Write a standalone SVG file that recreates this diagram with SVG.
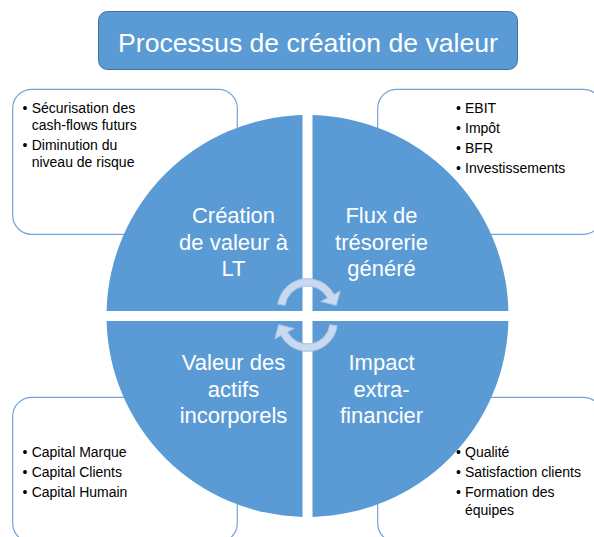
<svg xmlns="http://www.w3.org/2000/svg" width="594" height="537" viewBox="0 0 594 537">
<style>
.box{fill:#ffffff;stroke:#6FA3DA;stroke-width:1.2}
.quad{fill:#5B9BD5}
.qt{font-family:"Liberation Sans",Arial,sans-serif;font-size:22px;fill:#ffffff;text-anchor:middle}
.bt{font-family:"Liberation Sans",Arial,sans-serif;font-size:14px;fill:#000000}
.arr{fill:#C9DAF0;stroke:#A6C0E3;stroke-width:1}
</style>
<rect width="594" height="537" fill="#ffffff"/>
<g id="title">
<rect x="98.5" y="11.5" width="419" height="58" rx="9" fill="#5B9BD5" stroke="#41719C" stroke-width="1"/>
<text x="308" y="52" font-family="'Liberation Sans',Arial,sans-serif" font-size="26.6px" fill="#ffffff" text-anchor="middle">Processus de création de valeur</text>
</g>
<g id="box-tl">
<rect class="box" x="12.7" y="89.3" width="224.6" height="145" rx="19"/>
<text class="bt" x="22.5" y="112.5">•</text><text class="bt" x="31.7" y="112.5">Sécurisation des</text>
<text class="bt" x="31.7" y="130">cash-flows futurs</text>
<text class="bt" x="22.5" y="150">•</text><text class="bt" x="31.7" y="150">Diminution du</text>
<text class="bt" x="31.7" y="167">niveau de risque</text>
</g>
<g id="box-tr">
<rect class="box" x="377.7" y="89.3" width="224.6" height="145" rx="19"/>
<text class="bt" x="456" y="112.5">•</text><text class="bt" x="465" y="112.5">EBIT</text>
<text class="bt" x="456" y="132.5">•</text><text class="bt" x="465" y="132.5">Impôt</text>
<text class="bt" x="456" y="152.5">•</text><text class="bt" x="465" y="152.5">BFR</text>
<text class="bt" x="456" y="172.5">•</text><text class="bt" x="465" y="172.5">Investissements</text>
</g>
<g id="box-bl">
<rect class="box" x="12.7" y="397.3" width="224.6" height="145" rx="19"/>
<text class="bt" x="22.5" y="456.5">•</text><text class="bt" x="31.7" y="456.5">Capital Marque</text>
<text class="bt" x="22.5" y="477">•</text><text class="bt" x="31.7" y="477">Capital Clients</text>
<text class="bt" x="22.5" y="497">•</text><text class="bt" x="31.7" y="497">Capital Humain</text>
</g>
<g id="box-br">
<rect class="box" x="377.7" y="397.3" width="224.6" height="145" rx="19"/>
<text class="bt" x="456" y="456.5">•</text><text class="bt" x="465" y="456.5">Qualité</text>
<text class="bt" x="456" y="477">•</text><text class="bt" x="465" y="477">Satisfaction clients</text>
<text class="bt" x="456" y="497">•</text><text class="bt" x="465" y="497">Formation des</text>
<text class="bt" x="465" y="515">équipes</text>
</g>
<g id="quad-tl">
<path class="quad" d="M302.5,311 L302.5,115.06 A201,201 0 0 0 106.56,311 Z"/>
<text class="qt" x="233.5" y="223">Création</text>
<text class="qt" x="233.5" y="249.5">de valeur à</text>
<text class="qt" x="233.5" y="276">LT</text>
</g>
<g id="quad-tr">
<path class="quad" d="M312.5,311 L508.44,311 A201,201 0 0 0 312.5,115.06 Z"/>
<text class="qt" x="381.5" y="223">Flux de</text>
<text class="qt" x="381.5" y="249.5">trésorerie</text>
<text class="qt" x="381.5" y="276">généré</text>
</g>
<g id="quad-br">
<path class="quad" d="M312.5,321 L312.5,516.94 A201,201 0 0 0 508.44,321 Z"/>
<text class="qt" x="381.5" y="370">Impact</text>
<text class="qt" x="381.5" y="396.5">extra-</text>
<text class="qt" x="381.5" y="423">financier</text>
</g>
<g id="quad-bl">
<path class="quad" d="M302.5,321 L106.56,321 A201,201 0 0 0 302.5,516.94 Z"/>
<text class="qt" x="233.5" y="370">Valeur des</text>
<text class="qt" x="233.5" y="396.5">actifs</text>
<text class="qt" x="233.5" y="423">incorporels</text>
</g>
<g id="connectors">
<path class="arr" d="M277.79,304.32 A30,30 0 0 1 333.99,294.42 L340.17,291.13 L336.34,305.47 L320.74,301.46 L327.37,297.94 A22.5,22.5 0 0 0 285.22,305.37 Z"/>
<path class="arr" d="M337.21,325.68 A30,30 0 0 1 281.01,335.58 L274.83,338.87 L278.66,324.53 L294.26,328.54 L287.63,332.06 A22.5,22.5 0 0 0 329.78,324.63 Z"/>
</g>
</svg>
